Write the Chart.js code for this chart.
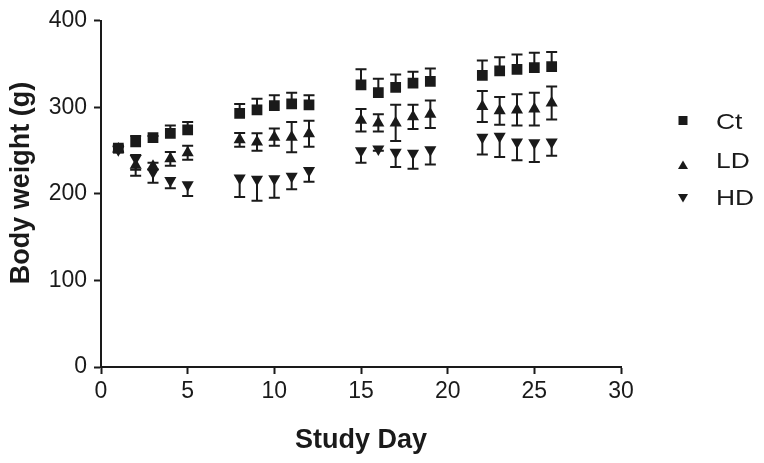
<!DOCTYPE html>
<html>
<head>
<meta charset="utf-8">
<script src="https://cdn.jsdelivr.net/npm/chart.js@4/dist/chart.umd.min.js"></script>
<style>
  html, body { margin: 0; padding: 0; background: #ffffff; }
  #wrap { width: 764px; height: 463px; position: relative; }
  canvas { display: block; }
</style>
</head>
<body>
<div id="wrap"><canvas id="c" width="764" height="463"></canvas></div>
<script>
// ---- data ----
const days = [1, 2, 3, 4, 5, 8, 9, 10, 11, 12, 15, 16, 17, 18, 19, 22, 23, 24, 25, 26];

const ctMean = [253, 260, 265, 270, 274, 293, 297, 302, 304, 303, 326, 317, 323, 328, 330, 337, 342, 344, 346, 347];
const ctErr  = [3, 7, 2, 9, 9, 11, 13, 12, 13, 11, 18, 16, 15, 13, 15, 17, 16, 17, 17, 17];

const ldMean = [252, 233, 232, 240.5, 247.5, 262.5, 260, 265.5, 265.5, 269.5, 285, 282, 282, 289, 292, 301, 296, 297, 298, 305];
const ldErr  = [3, 12, 4, 8, 8, 8, 10, 10, 17.5, 15, 13, 10, 21, 14, 16, 18, 16, 18, 19, 19];

const hdMean = [251, 241, 225, 215.5, 210.5, 218.5, 217, 217.5, 220.5, 227, 250, 252, 248, 247, 251, 265.5, 266.5, 260, 259, 260];
const hdErr  = [3, 13, 12, 9, 13, 22, 25, 22, 15, 13, 14, 2, 17, 18, 17, 20, 24, 21, 22, 16];

const seriesNames = ['Ct', 'LD', 'HD'];
const xTicks = [0, 5, 10, 15, 20, 25, 30];
const yTicks = [0, 100, 200, 300, 400];
const xTitle = 'Study Day';
const yTitle = 'Body weight (g)';

// ---- styling ----
const INK = '#1a1a1a';
const FONT = "'Liberation Sans', Arial, Helvetica, sans-serif";

function toPoints(means) { return days.map((d, i) => ({ x: d, y: means[i] })); }

const errorBars = {
  id: 'errorBars',
  beforeDatasetsDraw(chart) {
    const { ctx, scales: { x, y } } = chart;
    ctx.save();
    ctx.lineWidth = 2;
    ctx.lineCap = 'butt';
    chart.data.datasets.forEach((ds) => {
      ctx.strokeStyle = ds.errColor;
      ds.data.forEach((p, i) => {
        const e = ds.errors[i];
        const px = x.getPixelForValue(p.x);
        const pm = y.getPixelForValue(p.y);
        const ends = [];
        if (ds.errDir !== 'down') ends.push(y.getPixelForValue(p.y + e));
        if (ds.errDir !== 'up') ends.push(y.getPixelForValue(p.y - e));
        ends.forEach((pe) => {
          ctx.beginPath();
          ctx.moveTo(px, pm);
          ctx.lineTo(px, pe);
          ctx.moveTo(px - 5.5, pe);
          ctx.lineTo(px + 5.5, pe);
          ctx.stroke();
        });
      });
    });
    ctx.restore();
  }
};

const extras = {
  id: 'extras',
  afterDraw(chart) {
    const { ctx } = chart;
    ctx.save();
    // y-axis title
    ctx.fillStyle = INK;
    ctx.font = "bold 27px " + FONT;
    ctx.textAlign = 'center';
    ctx.textBaseline = 'middle';
    ctx.translate(22, 183);
    ctx.rotate(-Math.PI / 2);
    ctx.fillText(yTitle, 0, 0);
    ctx.restore();

    // legend
    const rows = [122.5, 162, 198.5];
    const mk = [120.5, 165, 198];
    chart.data.datasets.forEach((ds, i) => {
      ctx.save();
      ctx.fillStyle = INK;
      const cx = 683, cy = mk[i];
      ctx.beginPath();
      if (ds.pointStyle === 'rect') {
        ctx.rect(cx - 4.5, cy - 4.5, 9, 9);
      } else if (ds.pointRotation === 180) {
        ctx.moveTo(cx - 5, cy - 4);
        ctx.lineTo(cx + 5, cy - 4);
        ctx.lineTo(cx, cy + 4.5);
        ctx.closePath();
      } else {
        ctx.moveTo(cx - 5, cy + 4);
        ctx.lineTo(cx + 5, cy + 4);
        ctx.lineTo(cx, cy - 4.5);
        ctx.closePath();
      }
      ctx.fill();
      ctx.font = "22px " + FONT;
      ctx.textAlign = 'left';
      ctx.textBaseline = 'middle';
      ctx.translate(716, rows[i]);
      ctx.scale(1.2, 1);
      ctx.fillText(ds.label, 0, 0);
      ctx.restore();
    });
  }
};

new Chart(document.getElementById('c'), {
  type: 'scatter',
  data: {
    datasets: [
      { label: seriesNames[0], data: toPoints(ctMean), errors: ctErr, errDir: 'up', errColor: INK,
        pointStyle: 'rect', pointRadius: 7.6, backgroundColor: INK, borderColor: INK, borderWidth: 0, showLine: false },
      { label: seriesNames[1], data: toPoints(ldMean), errors: ldErr, errDir: 'both', errColor: INK,
        pointStyle: 'triangle', pointRadius: 7, backgroundColor: INK, borderColor: INK, borderWidth: 0, showLine: false },
      { label: seriesNames[2], data: toPoints(hdMean), errors: hdErr, errDir: 'down', errColor: INK,
        pointStyle: 'triangle', pointRotation: 180, pointRadius: 7, backgroundColor: INK, borderColor: INK, borderWidth: 0, showLine: false }
    ]
  },
  options: {
    responsive: false,
    devicePixelRatio: 1,
    animation: false,
    layout: { padding: { top: 20, right: 143, bottom: 0, left: 0 } },
    plugins: { legend: { display: false }, tooltip: { enabled: false } },
    scales: {
      x: {
        type: 'linear', min: 0, max: 30,
        afterBuildTicks: (s) => { s.ticks = xTicks.map(v => ({ value: v })); },
        afterFit: (s) => { s.height = 96; },
        ticks: { color: INK, font: { family: FONT, size: 23 }, padding: 4, maxRotation: 0 },
        grid: { display: true, drawOnChartArea: false, drawTicks: true, tickLength: 7, tickWidth: 2, tickColor: INK },
        border: { display: true, color: INK, width: 2 },
        title: { display: true, text: xTitle, color: INK, font: { family: FONT, size: 27, weight: 'bold' }, padding: { top: 0, bottom: 6 } }
      },
      y: {
        type: 'linear', min: 0, max: 400,
        afterBuildTicks: (s) => { s.ticks = yTicks.map(v => ({ value: v })); },
        afterFit: (s) => { s.width = 101; },
        ticks: { color: INK, font: { family: FONT, size: 23 }, padding: 7 },
        grid: { display: true, drawOnChartArea: false, drawTicks: true, tickLength: 7, tickWidth: 2, tickColor: INK },
        border: { display: true, color: INK, width: 2 },
        title: { display: false }
      }
    }
  },
  plugins: [errorBars, extras]
});
</script>
</body>
</html>
